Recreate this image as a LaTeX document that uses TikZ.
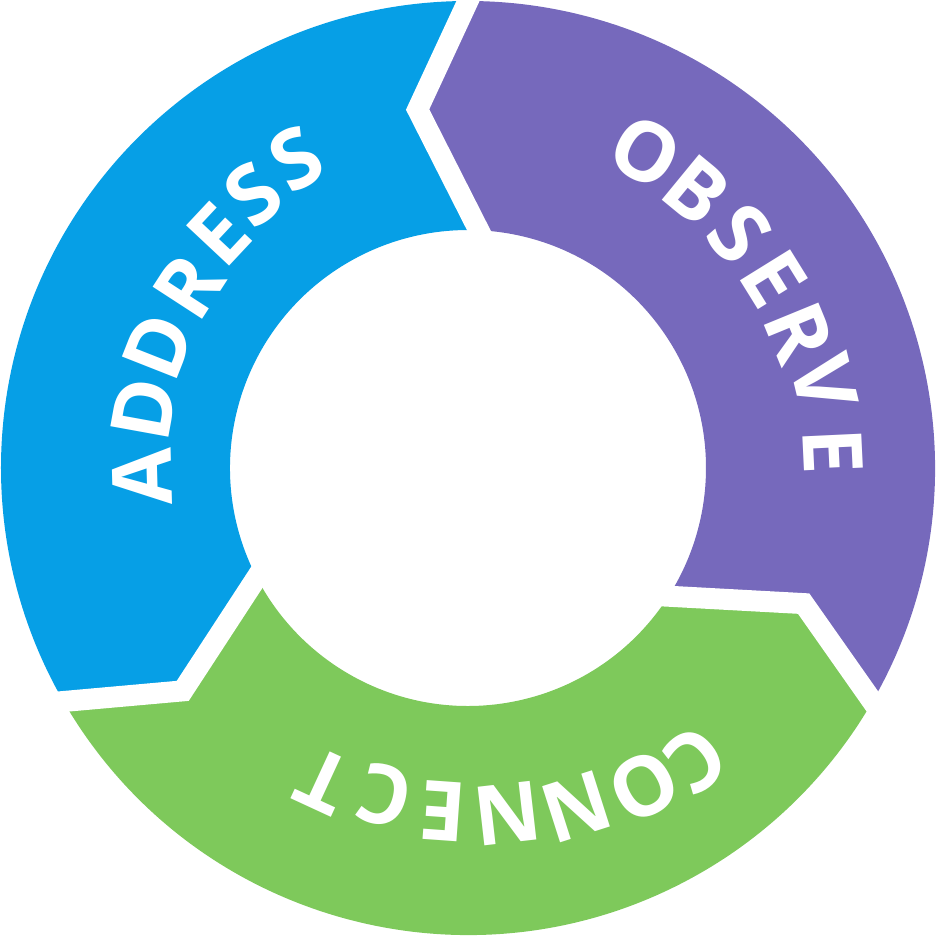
\documentclass[tikz,border=0pt]{standalone}
\usepackage{fontspec}
\setmainfont{Open Sans}
\definecolor{Blue}{HTML}{069FE6}
\definecolor{Purple}{HTML}{7669BC}
\definecolor{Green}{HTML}{7EC95B}

\begin{document}
\begin{tikzpicture}[x=.02cm,y=.02cm,
    letter/.style={text=white,inner sep=0pt,font=\bfseries\fontsize{47}{47}\selectfont},
    gapline/.style={draw=white,line width=.42cm,line join=miter,line cap=rect}]
  \useasboundingbox (-468,-468) rectangle (468,468);
  % three arrow segments of the ring, notch at \a, tip at \a+120
  \foreach \a/\col in {90/Blue,-30/Purple,210/Green}{
    \fill[\col] (\a:467) arc[start angle=\a,end angle=\a+120,radius=467]
      -- ({\a+128}:362) -- ({\a+117.4}:238)
      arc[start angle=\a+117.4,end angle=\a-2.6,radius=238]
      -- ({\a+8}:362) -- cycle;}
  \foreach \a in {90,-30,210}
    \draw[gapline] (\a:467) -- ({\a+8}:362) -- ({\a-2.6}:238);
  % letters, tops pointing outwards
  \foreach \t/\r/\c [count=\i] in {181.5/326/A,169.7/329/D,158.5/333/D,147/333/R,
      136.9/342/E,128/348/S,119/354/S,
      60.7/362/O,50.6/360/B,40.8/358.5/S,31.8/360/E,22.3/358/R,13.5/367/V,2.7/365/E,
      -52/371/C,-61.1/364/O,-72.3/356/N,-83.5/348/N,-94.1/344/E,-104.2/338/C,-114.8/345/T}
    \node[letter,rotate=\t-90] (ch\i) at (\t:\r) {\c};
\end{tikzpicture}
\end{document}
